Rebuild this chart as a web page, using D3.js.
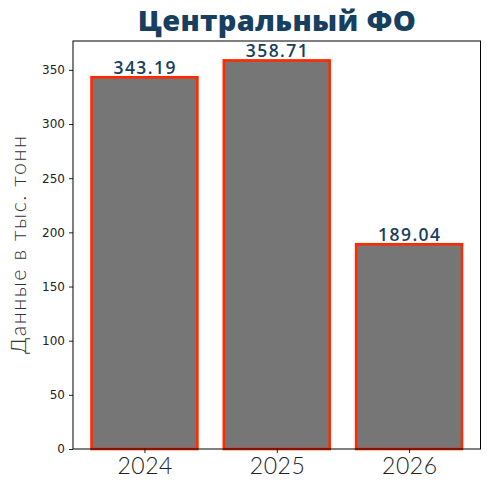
<!DOCTYPE html>
<html><head><meta charset="utf-8">
<script src="https://cdn.jsdelivr.net/npm/d3@7"></script>
<style>body{margin:0;background:#fff}</style>
</head><body>
<svg id="c" width="490" height="489"></svg>
<script>
const categories = ["2024", "2025", "2026"];
const values = [343.19, 358.71, 189.04];
const yTicks = [0, 50, 100, 150, 200, 250, 300, 350];
const title = "Центральный ФО";
const yLabel = "Данные в тыс. тонн";

const svg = d3.select("#c");
const L = 73, R = 480.5, T = 41, B = 449;
const x = d3.scaleLinear().domain([-0.54, 2.54]).range([L, R]);
const y = d3.scaleLinear().domain([0, 358.71 * 1.05]).range([B, T]);
const bw = 0.8;

svg.append("g").selectAll("rect").data(values).join("rect")
  .attr("x", (d, i) => x(i - bw / 2))
  .attr("width", (d, i) => x(i + bw / 2) - x(i - bw / 2))
  .attr("y", d => y(d))
  .attr("height", d => y(0) - y(d))
  .attr("fill", "#767676")
  .attr("stroke", "#ff2a00")
  .attr("stroke-width", 2.6);

svg.append("g").selectAll("text").data(values).join("text")
  .attr("x", (d, i) => x(i))
  .attr("y", d => y(d) - 3)
  .attr("text-anchor", "middle")
  .attr("font-family", "Open Sans, sans-serif")
  .attr("font-weight", 600)
  .attr("font-size", 17.5)
  .attr("fill", "#1a3f5c")
  .attr("textLength", 62)
  .attr("lengthAdjust", "spacing")
  .text(d => d.toFixed(2));

const yAxis = d3.axisLeft(y).tickValues(yTicks).tickSize(4).tickPadding(4);
const gy = svg.append("g").attr("transform", `translate(${L},0)`).call(yAxis);
gy.select(".domain").remove();
gy.selectAll("text").attr("font-family", "DejaVu Sans, sans-serif").attr("font-size", 12).attr("fill", "#222");
gy.selectAll("line").attr("stroke", "#222");

const xAxis = d3.axisBottom(x).tickValues([0, 1, 2]).tickFormat(i => categories[i]).tickSize(4).tickPadding(5);
const gx = svg.append("g").attr("transform", `translate(0,${B})`).call(xAxis);
gx.select(".domain").remove();
gx.selectAll("text").attr("font-family", "Lato, sans-serif").attr("font-weight", 300).attr("font-size", 23).attr("fill", "#222")
  .attr("textLength", 55).attr("lengthAdjust", "spacing");
gx.selectAll("line").attr("stroke", "#222");

svg.append("rect").attr("x", L).attr("y", T).attr("width", R - L).attr("height", B - T)
  .attr("fill", "none").attr("stroke", "#000").attr("stroke-width", 1);

svg.append("text")
  .attr("x", (L + R) / 2).attr("y", 31)
  .attr("text-anchor", "middle")
  .attr("font-family", "Open Sans, sans-serif")
  .attr("font-weight", 800)
  .attr("font-size", 29)
  .attr("fill", "#173f5f")
  .attr("textLength", 278)
  .attr("lengthAdjust", "spacing")
  .text(title);

svg.append("text")
  .attr("transform", `translate(26,${(T + B) / 2}) rotate(-90)`)
  .attr("text-anchor", "middle")
  .attr("font-family", "Lato, sans-serif")
  .attr("font-weight", 300)
  .attr("font-size", 21.5)
  .attr("fill", "#333")
  .attr("textLength", 218)
  .attr("lengthAdjust", "spacing")
  .text(yLabel);
</script>
</body></html>
